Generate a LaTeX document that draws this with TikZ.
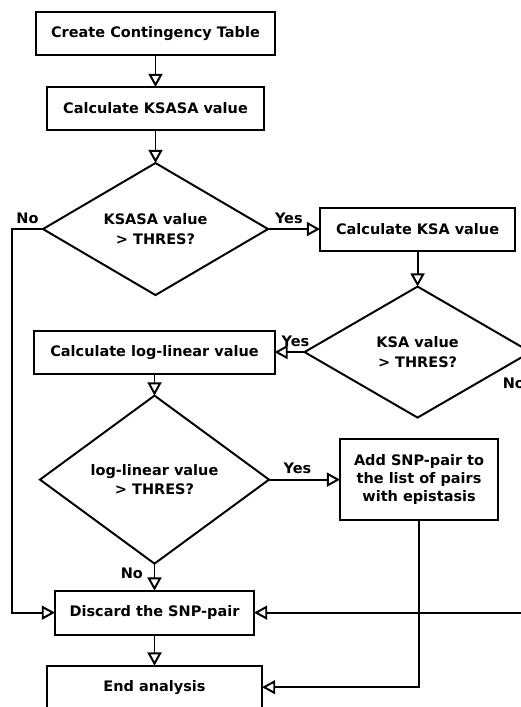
\documentclass[tikz,border=0pt]{standalone}
\usepackage{fontspec}
\setmainfont{DejaVu Sans}
\usetikzlibrary{arrows.meta,positioning,shapes.geometric}

\begin{document}
\begin{tikzpicture}[x=0.025cm,y=-0.025cm,font=\fontsize{10.3}{13}\selectfont\bfseries,
  >={Triangle[open,length=3.3mm,width=3.5mm]},line width=1.4pt]
\tikzstyle{blk}=[draw,minimum height=10.75mm,align=center,inner sep=2pt,outer sep=0pt]
\tikzstyle{dec}=[draw,diamond,shape aspect=1.5,align=center,inner sep=0pt,outer sep=0pt,
  font=\fontsize{10.3}{14}\selectfont\bfseries]
\useasboundingbox (0,0) rectangle (520,707);
\node[blk,minimum width=59.75mm] (cct) at (155.5,33.5) {Create Contingency Table};
\node[blk,minimum width=54mm,below=8mm of cct] (ksasa) {Calculate KSASA value};
\node[dec,minimum width=56.25mm,minimum height=33mm,below=8.25mm of ksasa] (d1) {KSASA value\\> THRES?};
\node[blk,minimum width=48.75mm,right=13mm of d1] (ksa) {Calculate KSA value};
\node[dec,minimum width=56.5mm,minimum height=32.75mm,below=9mm of ksa] (d2) {KSA value\\> THRES?};
\node[blk,minimum width=60mm,left=7.5mm of d2] (ll) {Calculate log-linear value};
\node[dec,minimum width=57.25mm,minimum height=42mm,below=5.5mm of ll] (d3) {log-linear value\\> THRES?};
\node[blk,minimum width=39.5mm,minimum height=20.25mm,right=17.75mm of d3] (add) {Add SNP-pair to\\the list of pairs\\with epistasis};
\node[blk,minimum width=49.75mm,minimum height=11mm,below=6.75mm of d3] (disc) {Discard the SNP-pair};
\node[blk,minimum width=53.75mm,below=7.75mm of disc] (ea) {End analysis};
% main column
\draw[->] (cct) -- (ksasa);
\draw[->] (ksasa) -- (d1);
\draw[->] (d1) -- node[above,pos=0.4] {Yes} (ksa);
\draw[->] (ksa) -- (d2);
\draw[->] (d2) -- node[above,pos=0.3] {Yes} (ll);
\draw[->] (ll) -- (d3);
\draw[->] (d3) -- node[above,pos=0.4] {Yes} (add);
\draw[->] (d3) -- node[left,xshift=-1.5mm,yshift=1mm] {No} (disc);
\draw[->] (disc) -- (ea);
% rejections go round the sides
\coordinate[left=7.75mm of d1.west] (lft);
\draw[->] (d1.west) -- node[above] {No} (lft) |- (disc.west);
\coordinate[right=5mm of d2.east] (rgt);
\draw[->] (d2.east) -- node[pos=0,anchor=north east,yshift=-5mm] {No} (rgt) |- (disc.east);
\draw[->] (add.south) |- (ea.east);
\end{tikzpicture}
\end{document}
